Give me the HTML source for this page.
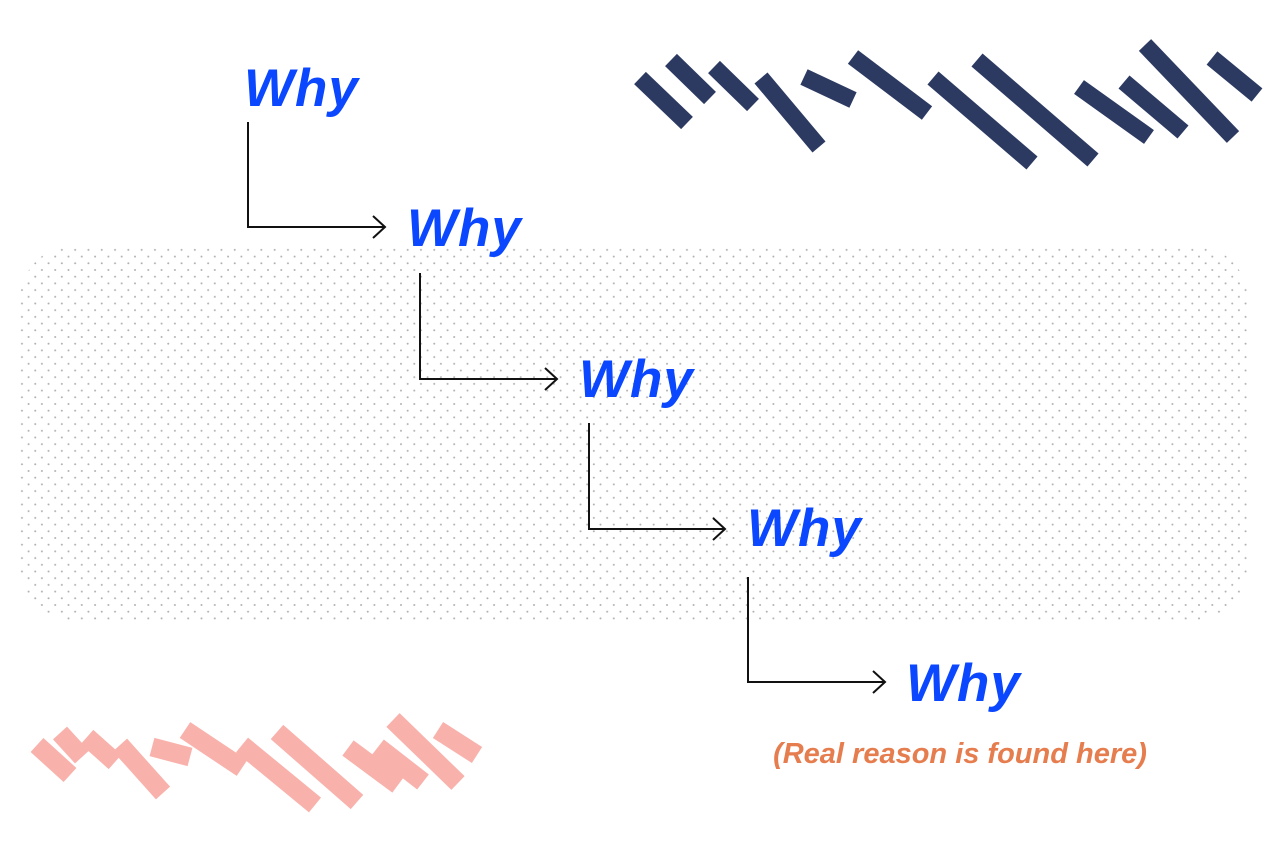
<!DOCTYPE html>
<html><head><meta charset="utf-8"><style>
html,body{margin:0;padding:0;background:#fff;width:1280px;height:855px;overflow:hidden}
svg{display:block}
.w{font-family:"Liberation Sans",sans-serif;font-weight:bold;font-style:italic;font-size:53px;letter-spacing:1px;fill:#0a47ff}
.o{font-family:"Liberation Sans",sans-serif;font-weight:bold;font-style:italic;font-size:29px;fill:#e67d4e}
</style></head><body>
<svg width="1280" height="855" viewBox="0 0 1280 855" xmlns="http://www.w3.org/2000/svg">
<defs>
<pattern id="dots" width="13.3" height="13.4" patternUnits="userSpaceOnUse">
<circle cx="2" cy="2" r="1" fill="#b0b0b0"/>
<circle cx="8.65" cy="8.7" r="1" fill="#b0b0b0"/>
</pattern>
</defs>
<rect x="20" y="245" width="1228" height="375" rx="55" fill="url(#dots)"/>
<g stroke="#2c3a62" stroke-width="17" stroke-linecap="butt">
<line x1="640" y1="78" x2="687" y2="123"/>
<line x1="671" y1="60" x2="710" y2="98"/>
<line x1="714" y1="67" x2="753" y2="105"/>
<line x1="761" y1="78" x2="819" y2="147"/>
<line x1="804" y1="77" x2="853" y2="100"/>
<line x1="853" y1="57" x2="927" y2="113"/>
<line x1="933" y1="78" x2="1032" y2="163"/>
<line x1="977" y1="60" x2="1093" y2="160"/>
<line x1="1079" y1="87" x2="1149" y2="137"/>
<line x1="1124" y1="82" x2="1183" y2="132"/>
<line x1="1145" y1="45" x2="1233" y2="137"/>
<line x1="1212" y1="58" x2="1257" y2="95"/>
</g>
<g stroke="#f9b1ab" stroke-width="19" stroke-linecap="butt">
<line x1="37" y1="745" x2="70" y2="775"/>
<line x1="60" y1="733" x2="82" y2="757"/>
<line x1="87" y1="737" x2="115" y2="762"/>
<line x1="120" y1="745" x2="163" y2="793"/>
<line x1="152" y1="747" x2="190" y2="757"/>
<line x1="185" y1="730" x2="242" y2="768"/>
<line x1="242" y1="745" x2="315" y2="805"/>
<line x1="277" y1="732" x2="357" y2="802"/>
<line x1="348" y1="748" x2="398" y2="785"/>
<line x1="378" y1="747" x2="423" y2="782"/>
<line x1="393" y1="720" x2="458" y2="783"/>
<line x1="438" y1="730" x2="477" y2="755"/>
</g>
<g fill="none" stroke="#111" stroke-width="2">
<polyline points="248,122 248,227 385,227"/><polyline points="373,216 385,227 373,238"/>
<polyline points="420,273 420,379 557,379"/><polyline points="545,368 557,379 545,390"/>
<polyline points="589,423 589,529 725,529"/><polyline points="713,518 725,529 713,540"/>
<polyline points="748,577 748,682 885,682"/><polyline points="873,671 885,682 873,693"/>
</g>
<text class="w" x="244" y="106">Why</text>
<text class="w" x="407" y="246">Why</text>
<text class="w" x="579" y="397">Why</text>
<text class="w" x="747" y="546">Why</text>
<text class="w" x="906" y="701">Why</text>
<text class="o" x="960" y="763" text-anchor="middle">(Real reason is found here)</text>
</svg>
</body></html>
